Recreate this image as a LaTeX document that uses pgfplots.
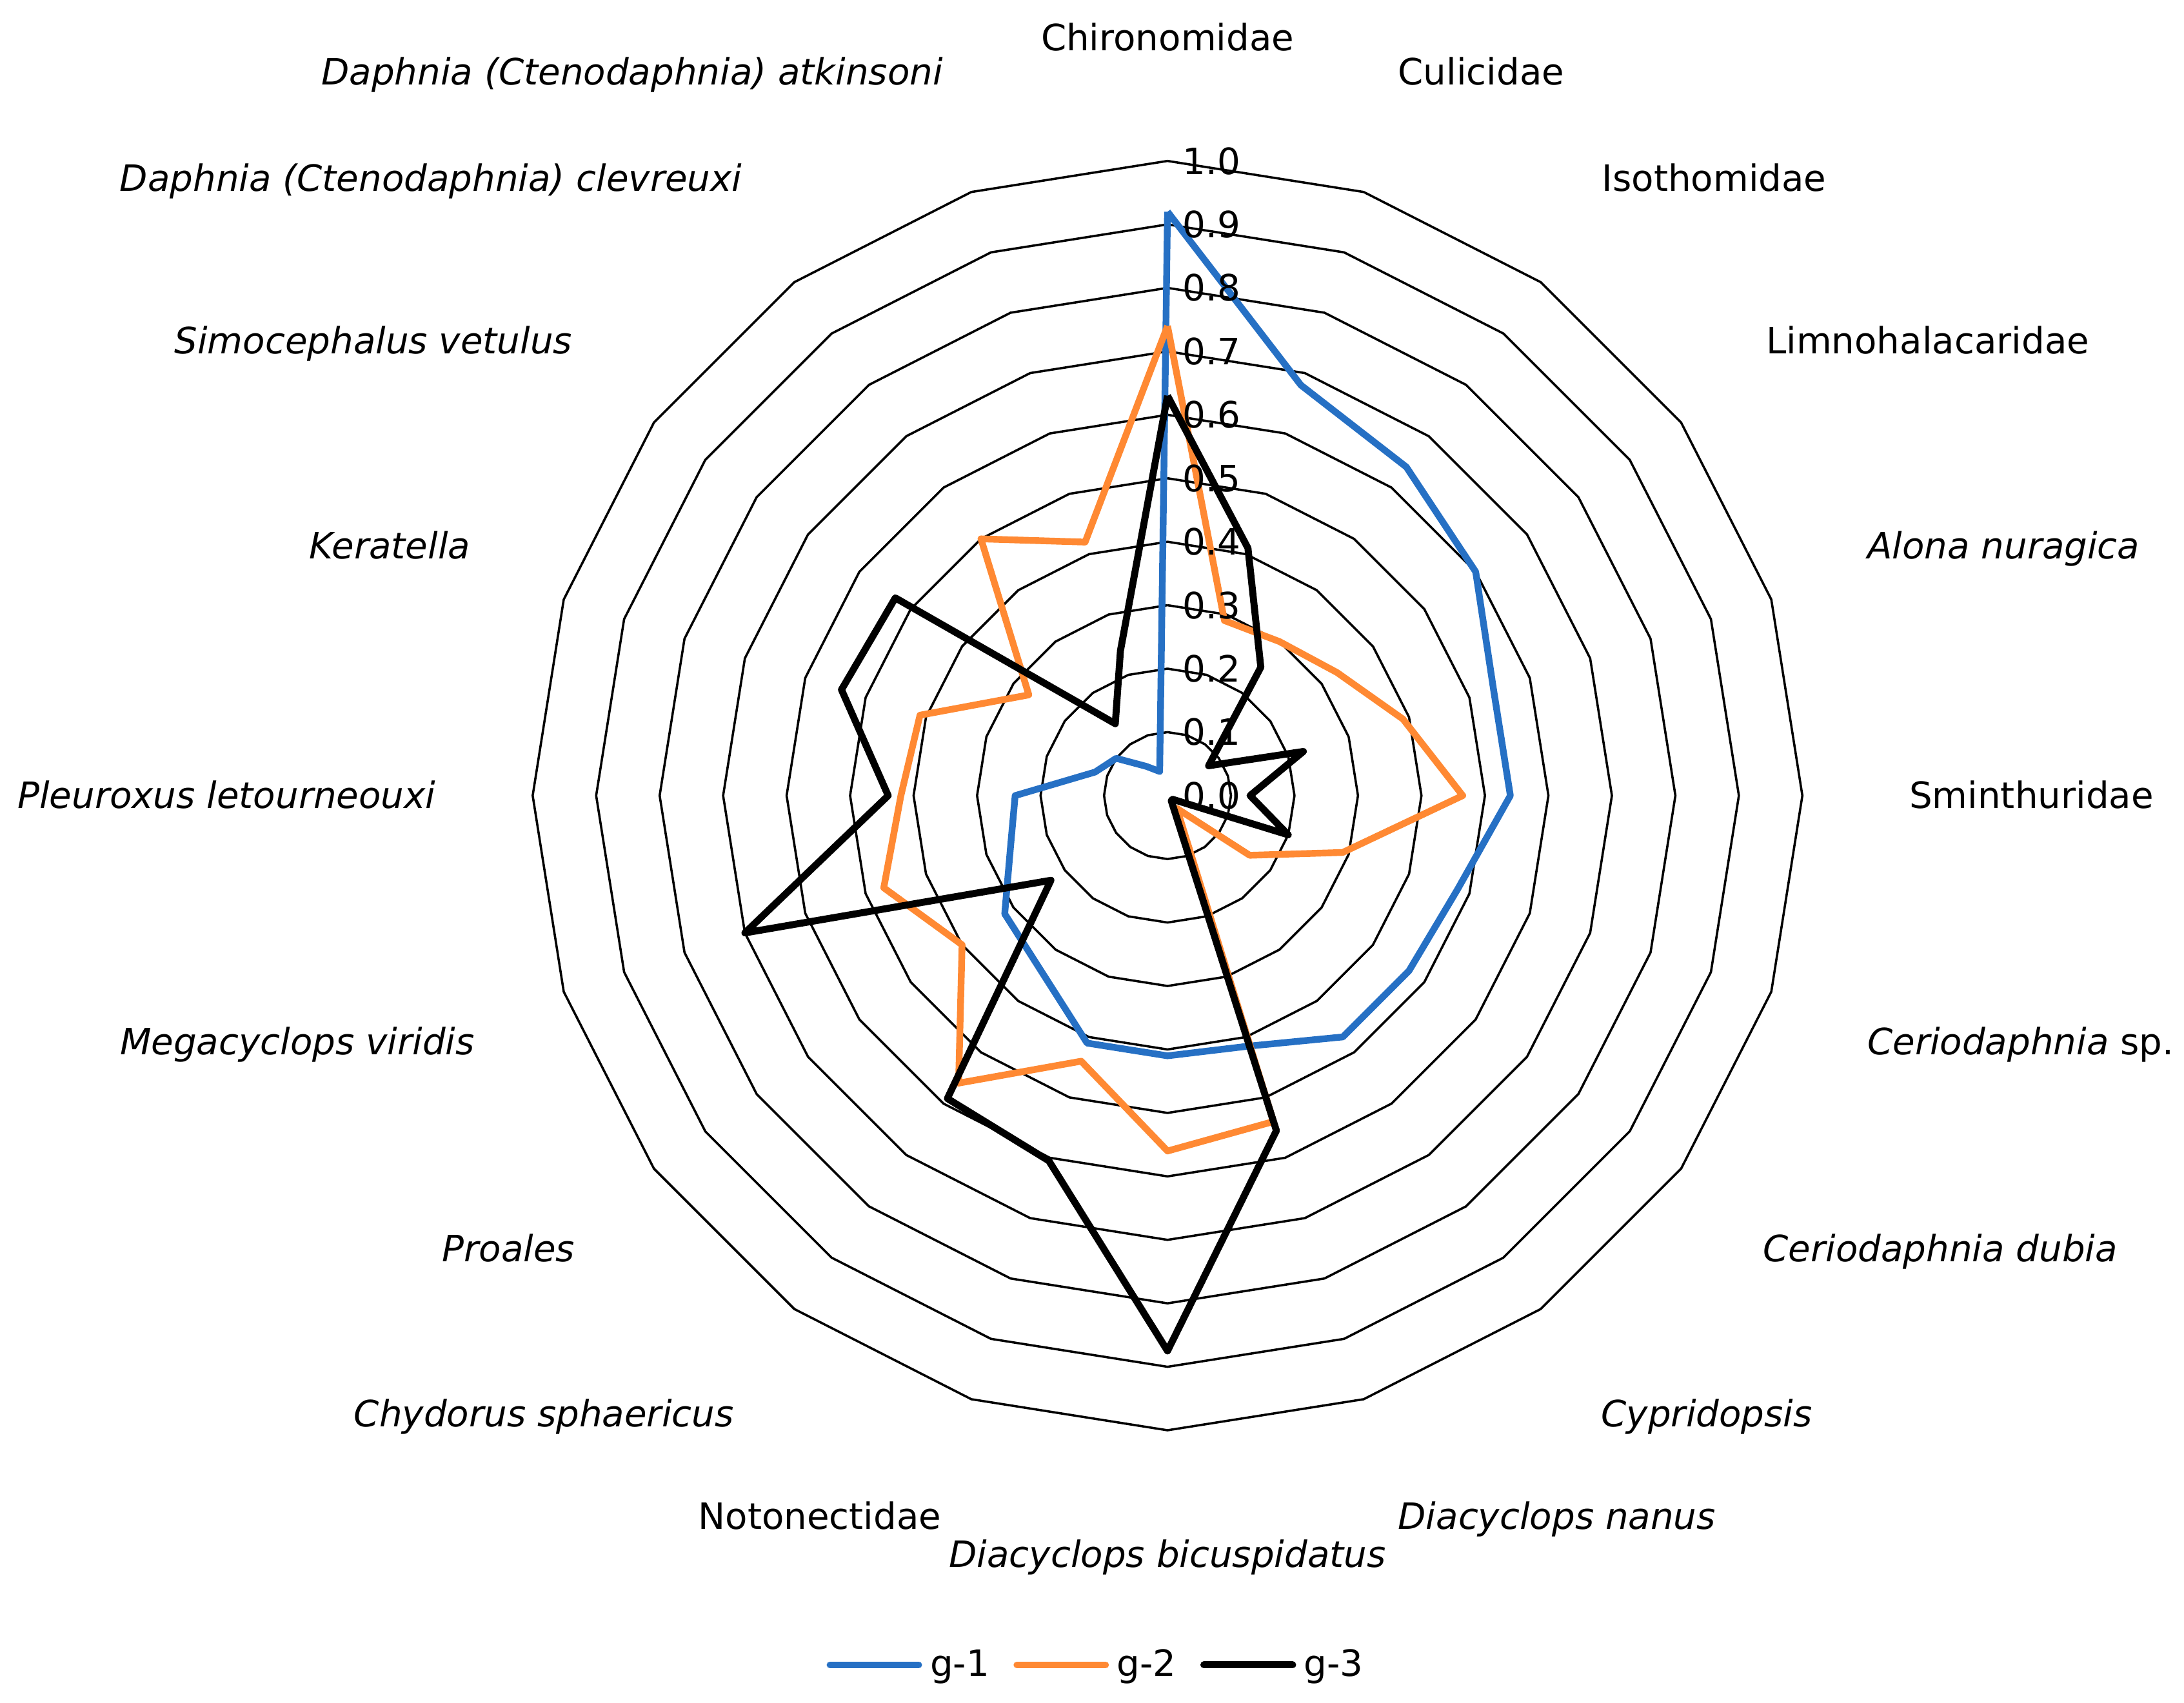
\documentclass[border=0pt]{standalone}
\usepackage{pgfplots}
\pgfplotsset{compat=1.18}
\usepackage{pgfplotstable}
\usepgfplotslibrary{polar}
\usepackage{fontspec}
\setmainfont{DejaVu Sans}

\definecolor{gblue}{RGB}{38,112,196}
\definecolor{gorange}{RGB}{255,137,51}

% angle of each category (clockwise from the top), values of the three groups
\pgfplotstableread{
ang   g1    g2    g3
90    0.92  0.74  0.63
72    0.68  0.29  0.41
54    0.64  0.30  0.25
36    0.60  0.33  0.08
18    0.54  0.39  0.225
0     0.54  0.465 0.13
-18   0.48  0.29  0.20
-36   0.47  0.16  0.01
-54   0.47  0.025 0.01
-72   0.415 0.54  0.555
-90   0.41  0.56  0.875
-108  0.41  0.44  0.605
-126  0.34  0.56  0.59
-144  0.317 0.40  0.227
-162  0.26  0.47  0.70
-180  0.24  0.42  0.44
-198  0.12  0.41  0.54
-216  0.10  0.27  0.53
-234  0.057 0.50  0.14
-252  0.04  0.42  0.24
-270  0.92  0.74  0.63
}\radar

\begin{document}
\begin{tikzpicture}[font=\fontsize{13.5}{16}\selectfont]
\path[use as bounding box] (-434.4pt,-337.7pt) rectangle (378.2pt,296.1pt);
\begin{axis}[
  at={(0,0)}, anchor=center,
  scale only axis, width=472.4pt, height=472.4pt,
  xmin=-1, xmax=1, ymin=-1, ymax=1,
  hide axis, clip=false,
  legend columns=3,
  legend style={draw=none, fill=none, at={(0.445,-0.1848)}, anchor=center,
    font=\fontsize{13.5}{16}\selectfont,
    /tikz/every even column/.append style={column sep=7pt},
    /tikz/every odd column/.append style={column sep=1pt}},
  legend image code/.code={\draw[#1, line cap=round] (0pt,0pt) -- (33pt,0pt);},
]
\pgfplotsinvokeforeach{0.1,0.2,0.3,0.4,0.5,0.6,0.7,0.8,0.9,1.0}{
  \addplot[black, line width=0.85pt, forget plot, data cs=polar] coordinates {
    (90,#1) (72,#1) (54,#1) (36,#1) (18,#1) (0,#1) (-18,#1) (-36,#1) (-54,#1) (-72,#1)
    (-90,#1) (-108,#1) (-126,#1) (-144,#1) (-162,#1) (-180,#1) (-198,#1) (-216,#1)
    (-234,#1) (-252,#1) (-270,#1)};
}
\addplot[gblue, line width=2.5pt, line join=round, data cs=polar] table[x=ang, y=g1] {\radar};
\addlegendentry{g-1}
\addplot[gorange, line width=2.5pt, line join=round, data cs=polar] table[x=ang, y=g2] {\radar};
\addlegendentry{g-2}
\addplot[black, line width=2.6pt, line join=round, data cs=polar] table[x=ang, y=g3] {\radar};
\addlegendentry{g-3}
\pgfplotsinvokeforeach{0.0,0.1,0.2,0.3,0.4,0.5,0.6,0.7,0.8,0.9,1.0}{
  \node[anchor=west, inner sep=0pt] at (axis cs:0.0234,#1) {#1};
}
\end{axis}

\tikzset{lab/.style={inner sep=0pt, text height=0.76em, text depth=0.21em, yshift=-2pt}}
\node[lab, anchor=center] at (0pt,282.1pt) {Chironomidae};
\node[lab, anchor=west] at (85.6pt,269.2pt) {Culicidae};
\node[lab, anchor=west] at (161.5pt,229.8pt) {Isothomidae};
\node[lab, anchor=west] at (222.5pt,169.1pt) {Limnohalacaridae};
\node[lab, anchor=west] at (260.2pt,92.9pt) {\textit{Alona nuragica}};
\node[lab, anchor=west] at (275.8pt,0pt) {Sminthuridae};
\node[lab, anchor=west] at (260.2pt,-91.6pt) {\textit{Ceriodaphnia} sp.};
\node[lab, anchor=west] at (221.4pt,-168.8pt) {\textit{Ceriodaphnia dubia}};
\node[lab, anchor=west] at (161.2pt,-230pt) {\textit{Cypridopsis}};
\node[lab, anchor=west] at (85.6pt,-268.3pt) {\textit{Diacyclops nanus}};
\node[lab, anchor=center] at (0pt,-282.4pt) {\textit{Diacyclops bicuspidatus}};
\node[lab, anchor=east] at (-84pt,-268.3pt) {Notonectidae};
\node[lab, anchor=east] at (-161.2pt,-230pt) {\textit{Chydorus sphaericus}};
\node[lab, anchor=east] at (-220.3pt,-168.8pt) {\textit{Proales}};
\node[lab, anchor=east] at (-257.6pt,-91.6pt) {\textit{Megacyclops viridis}};
\node[lab, anchor=east] at (-272.1pt,0pt) {\textit{Pleuroxus letourneouxi}};
\node[lab, anchor=east] at (-259.2pt,92.9pt) {\textit{Keratella}};
\node[lab, anchor=east] at (-221.3pt,169.1pt) {\textit{Simocephalus vetulus}};
\node[lab, anchor=east] at (-158.1pt,229.8pt) {\textit{Daphnia (Ctenodaphnia) clevreuxi}};
\node[lab, anchor=east] at (-83.4pt,269.2pt) {\textit{Daphnia (Ctenodaphnia) atkinsoni}};
\end{tikzpicture}
\end{document}
